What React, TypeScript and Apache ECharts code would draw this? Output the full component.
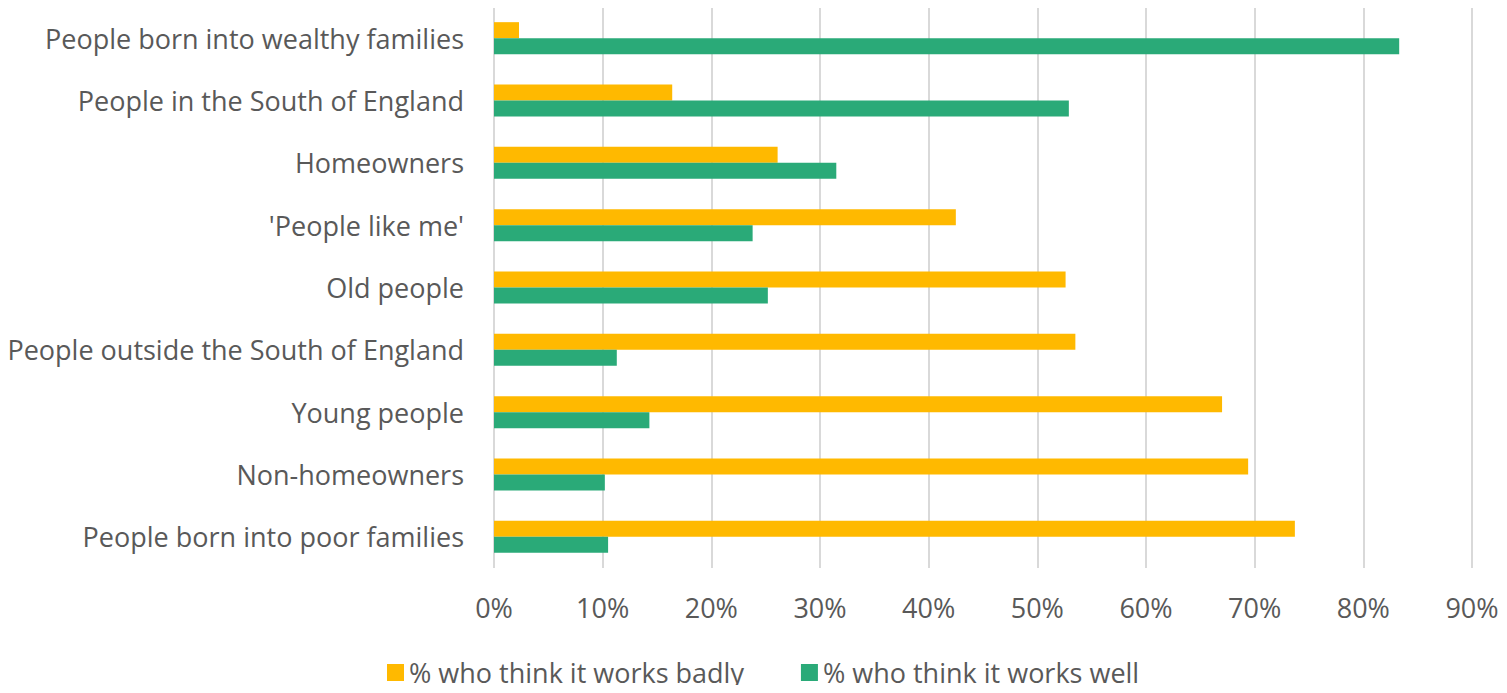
import React, { useEffect, useRef } from "react";
import * as echarts from "echarts";

const categories = [
  "People born into wealthy families",
  "People in the South of England",
  "Homeowners",
  "'People like me'",
  "Old people",
  "People outside the South of England",
  "Young people",
  "Non-homeowners",
  "People born into poor families",
];
const worksBadly = [2.3, 16.4, 26.1, 42.5, 52.6, 53.5, 67.0, 69.4, 73.7];
const worksWell = [83.3, 52.9, 31.5, 23.8, 25.2, 11.3, 14.3, 10.2, 10.5];
const seriesNames = ["% who think it works badly", "% who think it works well"];

const FONT = "Open Sans";
const TEXT = "#595959";

export default function App() {
  const ref = useRef<HTMLDivElement>(null);
  useEffect(() => {
    const chart = echarts.init(ref.current!, undefined, { renderer: "svg" });
    chart.setOption({
      animation: false,
      grid: { left: 494, right: 35, top: 7, bottom: 125, containLabel: false },
      legend: {
        top: 659,
        left: 387,
        itemWidth: 17,
        itemHeight: 17,
        itemGap: 57,
        padding: 0,
        icon: "rect",
        textStyle: { fontFamily: FONT, fontSize: 27, color: TEXT },
        data: seriesNames,
      },
      xAxis: {
        type: "value",
        min: 0,
        max: 90,
        interval: 10,
        axisLabel: {
          formatter: "{value}%",
          fontFamily: FONT,
          fontSize: 27,
          color: TEXT,
          margin: 26,
        },
        axisLine: { show: false },
        axisTick: { show: false },
        splitLine: { show: true, lineStyle: { color: "#d9d9d9", width: 2 } },
      },
      yAxis: {
        type: "category",
        inverse: true,
        data: categories,
        axisLabel: { fontFamily: FONT, fontSize: 27, color: TEXT, margin: 30 },
        axisLine: { show: false },
        axisTick: { show: false },
      },
      series: [
        {
          name: seriesNames[0],
          type: "bar",
          data: worksBadly,
          barWidth: 16,
          barGap: "0%",
          itemStyle: { color: "#FFB900" },
        },
        {
          name: seriesNames[1],
          type: "bar",
          data: worksWell,
          barWidth: 16,
          barGap: "0%",
          itemStyle: { color: "#2AAA78" },
        },
      ],
    });
    return () => chart.dispose();
  }, []);
  return <div ref={ref} style={{ width: 1507, height: 693, margin: -8 }} />;
}
